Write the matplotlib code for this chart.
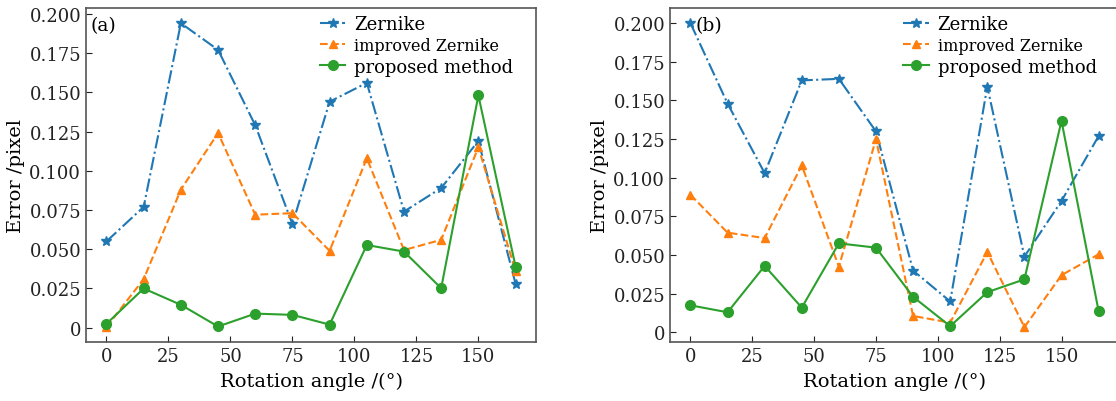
import numpy as np
import matplotlib
matplotlib.use("Agg")
import matplotlib.pyplot as plt
from matplotlib.ticker import FuncFormatter

plt.rcParams['font.family'] = ['DejaVu Serif']
plt.rcParams['mathtext.fontset'] = 'dejavuserif'

angles = [0, 15, 30, 45, 60, 75, 90, 105, 120, 135, 150, 165]

# panel (a)
zernike_a = [0.055, 0.077, 0.194, 0.177, 0.129, 0.066, 0.144, 0.156, 0.074, 0.089, 0.119, 0.028]
improved_a = [0.0004, 0.031, 0.088, 0.124, 0.072, 0.073, 0.049, 0.108, 0.0495, 0.056, 0.115, 0.036]
proposed_a = [0.0025, 0.025, 0.0146, 0.0008, 0.009, 0.0082, 0.002, 0.0527, 0.0485, 0.0252, 0.148, 0.039]

# panel (b)
zernike_b = [0.200, 0.148, 0.103, 0.163, 0.164, 0.130, 0.040, 0.020, 0.159, 0.049, 0.085, 0.127]
improved_b = [0.089, 0.0645, 0.061, 0.108, 0.0425, 0.125, 0.0106, 0.0063, 0.052, 0.0034, 0.037, 0.0505]
proposed_b = [0.0175, 0.013, 0.043, 0.016, 0.0576, 0.0548, 0.023, 0.004, 0.026, 0.0343, 0.1368, 0.0138]

panels = ["(a)", "(b)"]
xticks = [0, 25, 50, 75, 100, 125, 150]
yticks = [0, 0.025, 0.05, 0.075, 0.1, 0.125, 0.15, 0.175, 0.2]


def fmt(v, pos):
    if abs(v) < 1e-9:
        return "0"
    return f"{v:.3f}"


def main():
    fig = plt.figure(figsize=(11.16, 4.02), dpi=100)
    ax_a = fig.add_axes([0.0771, 0.146, 0.4032, 0.8316])
    ax_b = fig.add_axes([0.6004, 0.146, 0.4023, 0.8316])

    data = [(zernike_a, improved_a, proposed_a), (zernike_b, improved_b, proposed_b)]
    label_x = [0.010, 0.056]
    for i, axis in enumerate([ax_a, ax_b]):
        zer, imp, prop = data[i]
        axis.plot(angles, zer, color="#1f77b4", linestyle="-.", marker="*", markersize=7.5,
                  linewidth=1.5, label="Zernike")
        axis.plot(angles, imp, color="#ff7f0e", linestyle="--", marker="^", markersize=6,
                  linewidth=1.5, label="improved Zernike")
        axis.plot(angles, prop, color="#2ca02c", linestyle="-", marker="o", markersize=7,
                  linewidth=1.5, label="proposed method")
        axis.set_xticks(xticks)
        axis.set_yticks(yticks)
        axis.yaxis.set_major_formatter(FuncFormatter(fmt))
        axis.tick_params(axis='both', which='major', direction='in', length=4,
                         labelsize=13, colors='#222222')
        for sp in axis.spines.values():
            sp.set_color('#555555')
            sp.set_linewidth(1.2)
        axis.set_xlabel("Rotation angle /(°)", fontsize=14, labelpad=5)
        axis.set_ylabel("Error /pixel", fontsize=14, labelpad=3)
        axis.text(label_x[i], 0.975, panels[i], transform=axis.transAxes, fontsize=13.5,
                  ha='left', va='top')
        leg = axis.legend(frameon=False, loc="upper center", bbox_to_anchor=(0.735, 1.005),
                          fontsize=13, handlelength=1.4, handletextpad=0.5,
                          labelspacing=0.2, borderaxespad=0.1)
        leg.get_texts()[1].set_fontsize(11.5)

    fig.savefig("out.png", dpi=100)


if __name__ == "__main__":
    main()
